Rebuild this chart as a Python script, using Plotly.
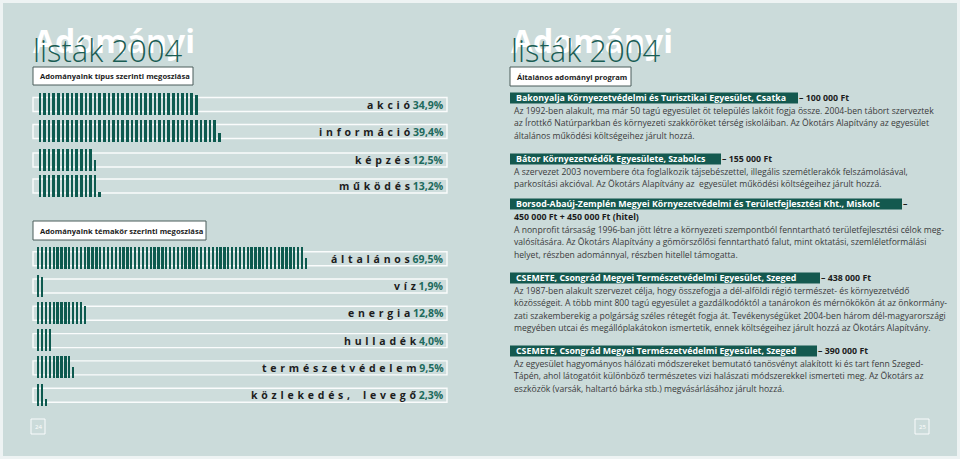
import math
import plotly.graph_objects as go

# ---------------- data ----------------
TYPE_CATS = ["akció", "információ", "képzés", "működés"]
TYPE_VALS = [34.9, 39.4, 12.5, 13.2]
TYPE_PCT_LABELS = ["34,9%", "39,4%", "12,5%", "13,2%"]

TOPIC_CATS = ["általános", "víz", "energia", "hulladék", "természetvédelem", "közlekedés, levegő"]
TOPIC_VALS = [69.5, 1.9, 12.8, 4.0, 9.5, 2.3]
TOPIC_PCT_LABELS = ["69,5%", "1,9%", "12,8%", "4,0%", "9,5%", "2,3%"]

TITLE_BIG = "Adományi"
TITLE_SMALL = "listák 2004"
BOX_TYPE = "Adományaink típus szerinti megoszlása"
BOX_TOPIC = "Adományaink témakör szerinti megoszlása"
BOX_PROGRAM = "Általános adományi program"
PAGE_NUMS = ["24", "25"]

GRANT_ORGS = [
    "Bakonyalja Környezetvédelmi és Turisztikai Egyesület, Csatka",
    "Bátor Környezetvédők Egyesülete, Szabolcs",
    "Borsod-Abaúj-Zemplén Megyei Környezetvédelmi és Területfejlesztési Kht., Miskolc",
    "CSEMETE, Csongrád Megyei Természetvédelmi Egyesület, Szeged",
    "CSEMETE, Csongrád Megyei Természetvédelmi Egyesület, Szeged",
]
GRANT_AMOUNTS = ["– 100 000 Ft", "– 155 000 Ft", "–", "– 438 000 Ft", "– 390 000 Ft"]
GRANT_SUBAMOUNT = ["", "", "450 000 Ft + 450 000 Ft (hitel)", "", ""]
GRANT_TEXTS = [
    ["Az 1992-ben alakult, ma már 50 tagú egyesület öt település lakóit fogja össze. 2004-ben tábort szerveztek",
     "az Írottkő Natúrparkban és környezeti szakköröket térség iskoláiban. Az Ökotárs Alapítvány az egyesület",
     "általános működési költségeihez járult hozzá."],
    ["A szervezet 2003 novembere óta foglalkozik tájsebészettel, illegális szemétlerakók felszámolásával,",
     "parkosítási akcióval. Az Ökotárs Alapítvány az  egyesület működési költségeihez járult hozzá."],
    ["A nonprofit társaság 1996-ban jött létre a környezeti szempontból fenntartható területfejlesztési célok meg-",
     "valósítására. Az Ökotárs Alapítvány a gömörszőlősi fenntartható falut, mint oktatási, szemléletformálási",
     "helyet, részben adománnyal, részben hitellel támogatta."],
    ["Az 1987-ben alakult szervezet célja, hogy összefogja a dél-alföldi régió természet- és környezetvédő",
     "közösségeit. A több mint 800 tagú egyesület a gazdálkodóktól a tanárokon és mérnökökön át az önkormány-",
     "zati szakemberekig a polgárság széles rétegét fogja át. Tevékenységüket 2004-ben három dél-magyarországi",
     "megyében utcai és megállóplakátokon ismertetik, ennek költségeihez járult hozzá az Ökotárs Alapítvány."],
    ["Az egyesület hagyományos hálózati módszereket bemutató tanösvényt alakított ki és tart fenn Szeged-",
     "Tápén, ahol látogatóit különböző természetes vizi halászati módszerekkel ismerteti meg. Az Ökotárs az",
     "eszközök (varsák, haltartó bárka stb.) megvásárlásához járult hozzá."],
]

# ---------------- layout constants ----------------
W, H = 960, 459
BG = "#cbdbda"
STRIPE = "#0d5a4f"
PCT_COLOR = "#1d6a5d"
LABEL_COLOR = "#1c1c1c"
TEAL_DARK = "#1a5d54"
HEAD_BG = "#14594f"
BODY_COLOR = "#3a3a3a"

RAIL_X0, RAIL_X1 = 33, 447
ROWS1_Y = [104.5, 131.5, 160.0, 186.0]
ROWS2_Y = [258.7 + 27.3 * k for k in range(6)]
UNIT1, OFF1 = 4.6, -1.0
UNIT2, OFF2 = 3.88, -0.84
STRIPE_UP, STRIPE_DOWN = 11.5, 10.5
RAIL_HALF = 7.0

HEAD_Y = [98, 159, 204, 278, 351]
HEAD_X1 = [798, 721, 902, 820, 817]
LINE_GAP = 12.3
TEXT_X0 = 512


def px(x):
    return x / W


def stripes(values, centers):
    xs, ys, bases = [], [], []
    for v, c in zip(values, centers):
        n = math.ceil(v - 1e-9)
        for i in range(n):
            frac = min(1.0, v - i)
            xs.append(i + 0.5)
            ys.append(-(STRIPE_UP + STRIPE_DOWN) * frac)
            bases.append(c + STRIPE_DOWN)
    return xs, ys, bases


fig = go.Figure()

x1, y1, b1 = stripes(TYPE_VALS, ROWS1_Y)
fig.add_trace(go.Bar(x=x1, y=y1, base=b1, width=0.58, marker=dict(color=STRIPE, line=dict(width=0)),
                     xaxis="x", yaxis="y", hoverinfo="skip", showlegend=False))
x2, y2, b2 = stripes(TOPIC_VALS, ROWS2_Y)
fig.add_trace(go.Bar(x=x2, y=y2, base=b2, width=0.6, marker=dict(color=STRIPE, line=dict(width=0)),
                     xaxis="x2", yaxis="y", hoverinfo="skip", showlegend=False))

shapes = []
annos = []

# page background
shapes.append(dict(type="rect", xref="paper", yref="y", x0=px(3), x1=px(957), y0=3, y1=456,
                   fillcolor=BG, line=dict(width=0), layer="below"))

# rails
for c in ROWS1_Y + ROWS2_Y:
    shapes.append(dict(type="rect", xref="paper", yref="y", x0=px(RAIL_X0), x1=px(RAIL_X1),
                       y0=c - RAIL_HALF, y1=c + RAIL_HALF, fillcolor="rgba(255,255,255,0.07)",
                       line=dict(color="rgba(255,255,255,0.9)", width=1.4), layer="below"))


def spaced(name):
    parts = []
    for ch in name:
        parts.append("\u00a0\u00a0" if ch == " " else ch)
    return " \u200a".join(parts)


for names, pcts, centers in [(TYPE_CATS, TYPE_PCT_LABELS, ROWS1_Y), (TOPIC_CATS, TOPIC_PCT_LABELS, ROWS2_Y)]:
    for n, p, c in zip(names, pcts, centers):
        annos.append(dict(xref="paper", yref="y", x=px(446), y=c, xanchor="right", yanchor="middle",
                          showarrow=False,
                          text=f"<b>{spaced(n)}</b> <span style='color:{PCT_COLOR}'><b>{p}</b></span>",
                          font=dict(family="Open Sans", size=10.5, color=LABEL_COLOR)))

# titles
for tx in [31, 509]:
    annos.append(dict(xref="paper", yref="y", x=px(tx), y=40, xanchor="left", yanchor="middle",
                      showarrow=False, text=f"<b>{TITLE_BIG}</b>",
                      font=dict(family="Open Sans", size=32, color="#ffffff")))
    annos.append(dict(xref="paper", yref="y", x=px(tx), y=50, xanchor="left", yanchor="middle",
                      showarrow=False, text=TITLE_SMALL,
                      font=dict(family="Open Sans Light, Lato Light, Roboto Light, Roboto",
                                size=31, color=TEAL_DARK, weight=300)))

# label boxes
for (bx0, bx1, by0, by1, txt) in [(33, 193, 67, 85, BOX_TYPE), (33, 206, 221, 240, BOX_TOPIC),
                                  (510, 631, 67, 86, BOX_PROGRAM)]:
    shapes.append(dict(type="rect", xref="paper", yref="y", x0=px(bx0), x1=px(bx1), y0=by0, y1=by1,
                       fillcolor="#ffffff", line=dict(color="#4a5d5a", width=1)))
    annos.append(dict(xref="paper", yref="y", x=px(bx0 + 5), y=(by0 + by1) / 2, xanchor="left",
                      yanchor="middle", showarrow=False, text=f"<b>{txt}</b>",
                      font=dict(family="Open Sans", size=7.6, color="#1c1c1c")))

# grant blocks
for k, org in enumerate(GRANT_ORGS):
    hy = HEAD_Y[k]
    shapes.append(dict(type="rect", xref="paper", yref="y", x0=px(510), x1=px(HEAD_X1[k]),
                       y0=hy - 5.5, y1=hy + 5.5, fillcolor=HEAD_BG, line=dict(width=0)))
    annos.append(dict(xref="paper", yref="y", x=px(514), y=hy, xanchor="left", yanchor="middle",
                      showarrow=False, text=f"<b>{org}</b>",
                      font=dict(family="Open Sans", size=8.8, color="#ffffff")))
    annos.append(dict(xref="paper", yref="y", x=px(HEAD_X1[k] - 1), y=hy, xanchor="left", yanchor="middle",
                      showarrow=False, text=f"<b>{GRANT_AMOUNTS[k]}</b>",
                      font=dict(family="Open Sans", size=8.8, color="#1c1c1c")))
    ly = hy + 13
    if GRANT_SUBAMOUNT[k]:
        annos.append(dict(xref="paper", yref="y", x=px(TEXT_X0), y=ly, xanchor="left", yanchor="middle",
                          showarrow=False, text=f"<b>{GRANT_SUBAMOUNT[k]}</b>",
                          font=dict(family="Open Sans", size=8.8, color="#1c1c1c")))
        ly += 13
    for line in GRANT_TEXTS[k]:
        annos.append(dict(xref="paper", yref="y", x=px(TEXT_X0), y=ly, xanchor="left", yanchor="middle",
                          showarrow=False, text=line,
                          font=dict(family="Open Sans", size=8.6, color=BODY_COLOR)))
        ly += LINE_GAP

# page numbers
for num, bx in zip(PAGE_NUMS, [31, 915]):
    shapes.append(dict(type="rect", xref="paper", yref="y", x0=px(bx), x1=px(bx + 14), y0=419, y1=434,
                       fillcolor="rgba(255,255,255,0)", line=dict(color="rgba(255,255,255,0.9)", width=1)))
    annos.append(dict(xref="paper", yref="y", x=px(bx + 7), y=426.5, xanchor="center", yanchor="middle",
                      showarrow=False, text=num, font=dict(family="Open Sans", size=6, color="#ffffff")))

fig.update_layout(
    width=W, height=H, margin=dict(l=0, r=0, t=0, b=0),
    paper_bgcolor="#eef3f3", plot_bgcolor="rgba(0,0,0,0)",
    barmode="overlay", bargap=0,
    xaxis=dict(domain=[px(RAIL_X0), px(RAIL_X1)], range=[OFF1, OFF1 + (RAIL_X1 - RAIL_X0) / UNIT1],
               visible=False, fixedrange=True, anchor="y"),
    xaxis2=dict(domain=[px(RAIL_X0), px(RAIL_X1)], range=[OFF2, OFF2 + (RAIL_X1 - RAIL_X0) / UNIT2],
                visible=False, fixedrange=True, anchor="y", overlaying="x"),
    yaxis=dict(domain=[0, 1], range=[H, 0], visible=False, fixedrange=True),
    shapes=shapes, annotations=annos, showlegend=False,
)

fig.write_html("out.html", config={"displayModeBar": False},
               post_script="document.body.style.margin='0';document.body.style.background='#eef3f3';")
